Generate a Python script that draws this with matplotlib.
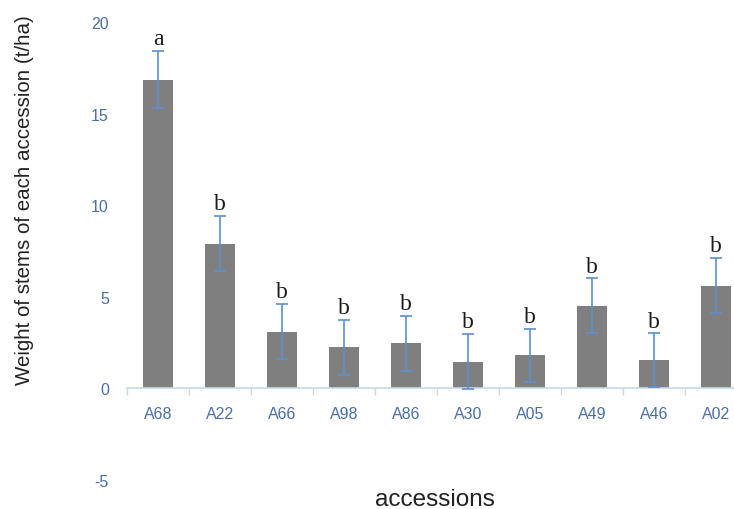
import numpy as np
import matplotlib.pyplot as plt

plt.rcParams["axes.unicode_minus"] = False

accessions = ["A68", "A22", "A66", "A98", "A86", "A30", "A05", "A49", "A46", "A02"]
weight = [16.85, 7.9, 3.1, 2.25, 2.45, 1.45, 1.8, 4.5, 1.55, 5.6]
err = [1.55, 1.5, 1.5, 1.5, 1.5, 1.5, 1.45, 1.5, 1.45, 1.5]
letters = ["a", "b", "b", "b", "b", "b", "b", "b", "b", "b"]

tick_blue = "#4a6fa5"
axis_blue = "#c9d7ea"
err_blue = "#5b8fd0"

fig = plt.figure(figsize=(7.34, 5.10), dpi=100)
ax = fig.add_axes([0.173, 0.057, 0.845, 0.898])

x = np.arange(len(accessions))
ax.bar(x, weight, width=0.48, color="#7f7f7f", zorder=2)
ax.errorbar(x, weight, yerr=err, fmt="none", ecolor=err_blue, elinewidth=1.2,
            capsize=4, capthick=1.2, zorder=3)

# significance letters above each error bar
for xi, w, e, lab in zip(x, weight, err, letters):
    ax.text(xi, w + e + 0.1, lab, ha="center", va="bottom",
            family="Liberation Serif", fontsize=17, color="#1a1a1a", zorder=4)

ax.set_xlim(-0.5, len(accessions) - 0.5)
ax.set_ylim(-5, 20)
ax.set_yticks([-5, 0, 5, 10, 15, 20])

for side in ["top", "right", "left"]:
    ax.spines[side].set_visible(False)
ax.spines["bottom"].set_position(("data", 0))
ax.spines["bottom"].set_color(axis_blue)
ax.spines["bottom"].set_linewidth(1.2)

ax.set_xticks(x)
ax.set_xticklabels(accessions)
ax.set_xticks(np.arange(-0.5, len(accessions), 1), minor=True)
ax.tick_params(axis="x", which="major", length=0, pad=13, labelsize=11.5,
               labelcolor=tick_blue)
ax.tick_params(axis="x", which="minor", length=5, color=axis_blue, width=1)
ax.tick_params(axis="y", length=0, pad=13, labelsize=11.5, labelcolor=tick_blue)
for lab in ax.get_xticklabels() + ax.get_yticklabels():
    lab.set_family("Liberation Sans")

fig.text(0.033, 0.608, "Weight of stems of each accession (t/ha)", rotation=90,
         ha="center", va="center", fontsize=14.8, family="Liberation Sans",
         color="#222222")
fig.text(0.593, 0.02, "accessions", ha="center", va="center", fontsize=17.5,
         family="Liberation Sans", color="#222222")

fig.savefig("out.png", dpi=100)
